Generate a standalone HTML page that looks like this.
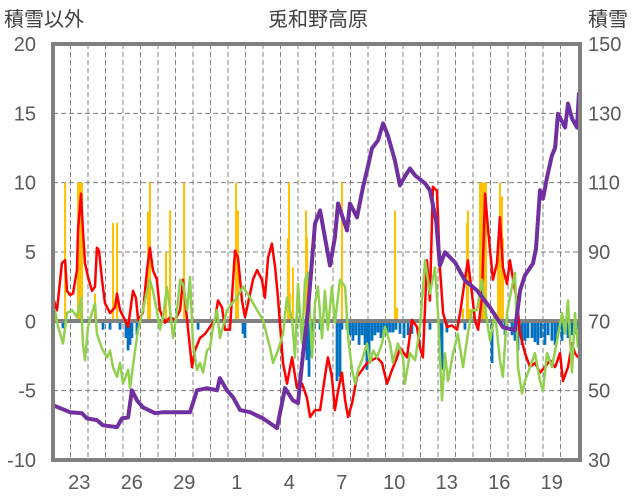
<!DOCTYPE html>
<html><head><meta charset="utf-8"><style>
html,body{margin:0;padding:0;background:#fff;}
svg{display:block;font-family:"Liberation Sans","Noto Sans CJK JP",sans-serif;}
</style></head><body>
<svg id="chart" width="636" height="501" viewBox="0 0 636 501" xmlns="http://www.w3.org/2000/svg">
<text x="318" y="26" text-anchor="middle" font-size="20" fill="#404040">兎和野高原</text>
<text x="4" y="26" font-size="20" fill="#404040">積雪以外</text>
<text x="588" y="26" font-size="20" fill="#404040">積雪</text>
<g id="grid"></g><g id="bars"></g>
<line x1="53" x2="580" y1="321" y2="321" stroke="#808080" stroke-width="4"/>
<g id="lines"></g>
<rect x="53" y="44" width="527" height="416" fill="none" stroke="#808080" stroke-width="4"/>
<g id="ticks"></g>
</svg>
<script>
const leftTicks=[20,15,10,5,0,-5,-10];
const rightTicks=[150,130,110,90,70,50,30];
const dayLabels=["23","26","29","1","4","7","10","13","16","19"];
const snowT=[0,0.97,1.66,1.94,2.51,2.86,3.66,3.94,4.29,4.51,4.8,5.14,5.83,6.29,7.83,8.23,8.8,9.37,9.54,9.94,10.29,10.69,11.26,12.0,12.8,13.26,13.71,14.0,14.29,14.57,14.97,15.26,15.54,15.83,16.11,16.29,16.8,16.97,17.37,17.71,17.94,18.23,18.57,18.86,19.14,19.54,19.83,20.11,20.4,20.69,21.26,21.54,21.89,22.11,22.4,22.97,23.54,24.23,24.97,25.71,26.4,26.69,26.97,27.43,27.6,27.83,28.0,28.23,28.51,28.69,28.86,29.26,29.43,29.66,29.94,30.06];
const snowV=[45.8,43.8,43.5,42.0,41.5,40.0,39.5,42.0,42.3,50.1,47.2,45.2,43.5,43.8,43.8,50.1,50.7,50.1,53.6,50.1,48.1,44.4,43.8,42.0,39.2,50.7,47.2,46.4,60.8,73.2,98.2,102.0,94.2,86.1,94.2,104.0,96.2,104.0,100.0,108.6,113.5,119.9,122.2,127.1,123.6,116.4,109.2,111.8,114.1,112.1,109.8,107.8,99.1,86.1,89.9,87.0,81.8,78.9,74.0,68.3,67.4,78.9,83.3,86.7,91.0,107.8,105.4,111.5,117.8,120.1,129.9,125.9,132.8,128.5,125.9,136.0];
const redT=[0,.23,.51,.69,.8,.97,1.14,1.37,1.43,1.6,1.71,1.83,2.0,2.23,2.4,2.51,2.63,2.8,2.97,3.26,3.54,3.66,3.83,4.11,4.29,4.57,4.74,4.86,5.14,5.37,5.54,5.71,5.94,6.11,6.4,6.69,6.97,7.26,7.43,7.66,7.94,8.11,8.4,8.69,8.97,9.26,9.43,9.66,9.83,10.11,10.4,10.57,10.8,10.97,11.14,11.43,11.66,11.94,12.11,12.29,12.51,12.69,12.86,13.14,13.37,13.66,13.94,14.23,14.51,14.69,14.97,15.26,15.54,15.71,15.94,16.11,16.29,16.51,16.69,16.86,17.09,17.37,17.66,17.94,18.23,18.51,18.8,19.09,19.37,19.66,19.83,20.23,20.51,20.8,20.97,21.14,21.37,21.54,21.71,21.94,22.11,22.29,22.51,22.8,23.09,23.26,23.54,23.71,23.94,24.11,24.29,24.51,24.69,24.86,25.14,25.37,25.54,25.71,25.94,26.11,26.29,26.51,26.69,26.97,27.26,27.54,27.83,28.11,28.4,28.69,28.97,29.14,29.43,29.66,29.83,30.0];
const redV=[1.7,0.8,4.2,4.4,2.2,1.9,2.0,3.7,6.6,9.2,6.6,4.2,3.2,2.2,2.5,5.3,5.1,3.0,1.3,0.6,1.0,2.0,0.8,0.1,-0.4,2.2,1.7,0.1,0.6,3.7,5.3,3.7,3.0,0.8,-0.1,0.3,0.1,0.8,3.0,0.1,-3.3,-2.1,-1.2,-0.9,-0.4,0.1,1.5,1.0,-0.6,-0.6,5.1,4.6,1.5,0.3,1.3,3.0,3.7,3.0,1.7,4.6,5.6,3.9,1.7,-3.0,-4.5,-2.6,-4.8,-4.5,-5.5,-6.9,-6.4,-6.4,-4.0,-2.6,-4.0,-6.4,-5.0,-3.7,-5.7,-6.9,-5.9,-4.0,-3.5,-3.0,-2.8,-2.6,-3.0,-4.5,-3.5,-2.6,-1.9,-2.6,0.1,-0.4,-1.9,-2.6,4.4,1.5,9.7,9.4,3.9,0.6,-0.4,-0.3,-0.6,0.6,3.0,4.4,2.0,0.1,-0.6,1.7,9.2,6.6,3.0,4.2,7.5,3.9,2.7,4.4,3.0,1.5,-0.9,-2.3,-3.3,-3.0,-3.7,-3.3,-2.8,-3.3,-2.3,-4.3,-3.3,-1.6,-2.3,-2.6];
const greenT=[0,.11,.29,.57,.8,1.09,1.37,1.6,1.71,1.83,2.0,2.23,2.4,2.51,2.69,2.86,3.09,3.26,3.43,3.66,3.83,4.0,4.29,4.4,4.69,4.86,5.14,5.37,5.54,5.71,5.94,6.11,6.29,6.51,6.69,6.86,7.09,7.26,7.43,7.66,7.83,8.0,8.23,8.4,8.57,8.8,8.97,9.14,9.37,9.54,9.71,9.94,10.23,10.51,10.86,11.26,11.66,12.0,12.4,12.57,12.86,13.14,13.37,13.66,13.83,14.0,14.23,14.4,14.57,14.8,14.97,15.14,15.37,15.54,15.71,15.94,16.11,16.4,16.69,16.86,17.09,17.26,17.43,17.71,17.94,18.11,18.29,18.51,18.8,18.97,19.26,19.43,19.71,20.0,20.11,20.4,20.69,20.97,21.26,21.54,21.83,22.0,22.23,22.4,22.57,22.86,23.14,23.43,23.71,23.94,24.23,24.51,24.69,24.97,25.26,25.54,25.71,25.94,26.23,26.4,26.57,26.8,26.97,27.26,27.54,27.83,28.0,28.23,28.51,28.8,29.09,29.26,29.43,29.66,29.83,30.0];
const greenV=[-1.2,0.8,-0.4,-1.6,0.6,0.8,0.3,1.7,-1.6,-2.8,-0.4,0.6,1.3,-0.9,-1.6,-2.1,-2.6,-2.1,-3.3,-4.0,-3.0,-4.5,-3.5,-4.8,-2.1,-0.6,0.8,2.2,3.0,2.2,0.8,-0.6,0.3,2.5,0.8,-1.2,0.8,3.0,2.7,0.8,3.2,-1.6,-3.5,-3.0,-3.7,-2.1,-1.9,-0.4,0.8,-1.2,-0.4,0.8,1.3,1.7,2.5,1.7,0.8,0.1,-1.9,-3.0,-2.1,-0.9,1.7,0.1,-2.6,2.7,-1.6,3.0,3.5,-2.6,1.3,2.5,-1.2,2.2,-0.6,2.5,-0.1,3.0,2.5,-1.2,-3.5,-4.5,-3.5,-2.6,-1.6,-3.0,-2.1,-2.6,-1.6,-0.4,-1.6,-3.0,-1.6,-2.6,-4.5,-2.3,-2.8,-0.4,4.4,2.0,3.9,0.6,-5.7,-2.3,-4.3,-2.3,-0.9,-3.3,-0.9,0.8,0.8,3.0,1.0,-1.4,0.6,-2.8,-4.0,0.6,2.5,3.5,-3.3,-5.2,-4.3,-3.3,-2.3,-4.3,-5.0,-2.3,-3.3,-1.4,0.6,-0.9,1.5,-3.7,0.6,-1.9];
const rainT=[.69,1.43,1.49,1.54,1.6,1.66,2.4,3.43,3.66,5.43,5.54,6.46,6.69,7.49,10.46,10.57,13.43,13.49,13.54,13.71,14.46,14.51,16.51,19.54,19.66,23.43,23.66,23.71,23.83,24.4,24.46,24.51,24.57,24.63,24.69,24.74,25.43,25.54,25.66,25.71];
const rainV=[10,10,10,10,10,10,2.0,7.1,7.1,7.9,10,5.0,8.0,10,10,8.0,6.0,10,2.0,3.9,8.0,6.1,10,8.0,1.0,0.9,7.1,8.0,0.9,10,10,10,10,10,10,10,5.8,10,9.0,6.0];
const meltT=[.57,2.86,3.26,3.83,4.17,4.29,4.4,4.51,4.8,8.29,10.86,10.97,14.51,14.63,14.74,14.86,15.26,16.23,16.4,16.51,16.8,16.97,17.14,17.31,17.49,17.66,17.83,17.94,18.06,18.23,18.4,18.57,18.74,18.91,19.09,19.26,19.43,19.6,19.83,20.06,20.29,20.51,21.54,22.11,22.23,22.51,23.54,25.09,25.83,26.23,26.4,26.57,26.8,26.97,27.14,27.37,27.54,27.71,27.89,28.11,28.29,28.51,28.69,28.86,29.09,29.26,29.43,29.66,29.83,30.0];
const meltV=[-0.5,-0.6,-0.6,-0.6,-1.2,-2.1,-1.7,-1.2,-1.0,-0.6,-0.9,-1.2,-2.8,-4.0,-2.5,-1.4,-0.6,-4.3,-4.0,-0.6,-0.6,-1.0,-1.4,-1.0,-1.7,-1.0,-1.7,-3.5,-2.4,-1.4,-1.0,-0.8,-1.2,-0.8,-1.0,-0.8,-0.8,-0.6,-0.9,-1.2,-1.0,-0.9,-0.6,-2.1,-3.5,-0.8,-0.6,-3.0,-1.0,-1.0,-1.4,-2.1,-1.7,-1.4,-1.2,-1.2,-1.5,-1.7,-1.2,-1.7,-1.0,-1.4,-1.7,-1.0,-1.4,-0.9,-1.2,-1.0,-0.9,-0.6];

const NS="http://www.w3.org/2000/svg";
const X0=53,DAY=17.5,YT=44,YB=460;
const xS=t=>X0+t*DAY;
const yL=v=>YB-(v+10)/30*(YB-YT);
const yR=v=>YB-(v-30)/120*(YB-YT);
function mk(tag,attrs,parent){const e=document.createElementNS(NS,tag);for(const k in attrs)e.setAttribute(k,attrs[k]);parent.appendChild(e);return e;}
const grid=document.getElementById('grid'),bars=document.getElementById('bars'),lines=document.getElementById('lines'),ticks=document.getElementById('ticks');
leftTicks.forEach(v=>{if(v===20||v===-10||v===0)return;const l=mk('line',{x1:X0,x2:580,y1:yL(v),y2:yL(v),stroke:'#808080','stroke-width':1,'stroke-dasharray':'5,3'},grid);

});
for(let d=1;d<30;d++){const l=mk('line',{x1:xS(d),x2:xS(d),y1:YT,y2:YB,stroke:'#808080','stroke-width':1,'stroke-dasharray':'5,3'},grid);

}
rainT.forEach((t,i)=>{const y=yL(Math.min(rainV[i],10));const r=mk('rect',{x:xS(t)-1,y:y,width:2,height:yL(0)-y,fill:'#ffc000'},bars);

});
meltT.forEach((t,i)=>{const r=mk('rect',{x:xS(t)-1.4,y:yL(0),width:2.8,height:yL(meltV[i])-yL(0),fill:'#0070c0'},bars);

});
function poly(T,V,f,color,w,name){const p=mk('polyline',{points:T.map((t,i)=>xS(t).toFixed(1)+','+f(V[i]).toFixed(1)).join(' '),fill:'none',stroke:color,'stroke-width':w,'stroke-linejoin':'round'},lines);

}
poly(redT,redV,yL,'#ff0000',2.5,'temperature-line');
poly(greenT,greenV,yL,'#92d050',2.5,'other-line');
poly(snowT,snowV,yR,'#7030a0',4,'snow-depth-line');
leftTicks.forEach(v=>{const t=mk('text',{x:36,y:yL(v)+7,'text-anchor':'end','font-size':20,fill:'#595959'},ticks);t.textContent=v;

});
rightTicks.forEach(v=>{const t=mk('text',{x:588,y:yR(v)+7,'font-size':20,fill:'#595959'},ticks);t.textContent=v;

});
dayLabels.forEach((s,i)=>{const t=mk('text',{x:xS(1.5+3*i),y:489,'text-anchor':'middle','font-size':20,fill:'#595959'},ticks);t.textContent=s;

});
</script>
</body></html>
